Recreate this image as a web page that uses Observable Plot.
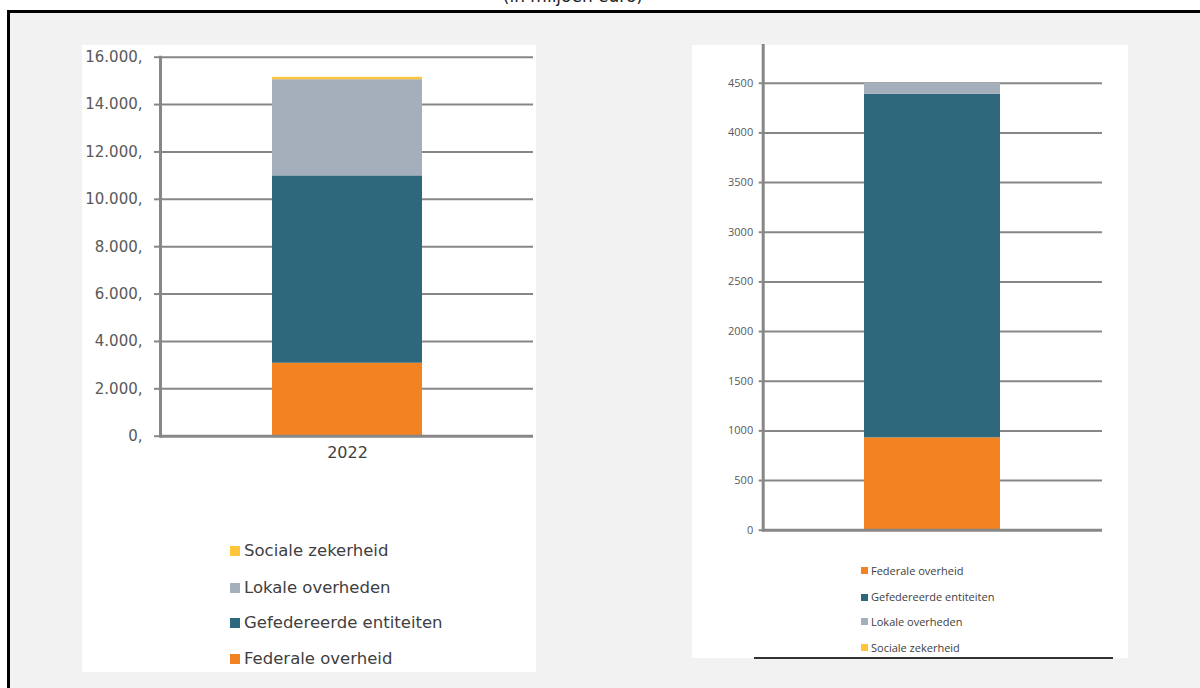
<!DOCTYPE html>
<html>
<head>
<meta charset="utf-8">
<script src="https://cdn.jsdelivr.net/npm/d3@7"></script>
<script src="https://cdn.jsdelivr.net/npm/@observablehq/plot@0.6"></script>
<style>
  html, body { margin: 0; padding: 0; background: #ffffff; width: 1200px; height: 688px; overflow: hidden; }
  #frame { position: absolute; left: 7px; top: 10px; width: 1193px; height: 678px; background: #f2f2f2;
           border-top: 3px solid #000; border-left: 3px solid #000; box-sizing: border-box; }
  .panel { position: absolute; background: #ffffff; }
  .chart { position: absolute; }
  .leg { position: absolute; white-space: nowrap; }
  .leg .sw { position: absolute; }
  .leg .tx { position: absolute; white-space: nowrap; }
</style>
</head>
<body>
<svg id="topText" width="1200" height="12" style="position:absolute;left:0;top:0;overflow:hidden"></svg>
<div id="frame"></div>
<div class="panel" style="left:82px;top:45px;width:454px;height:627px"></div>
<div class="panel" style="left:692px;top:45px;width:436px;height:613px"></div>
<div style="position:absolute;left:754px;top:657px;width:359px;height:2px;background:#333"></div>
<div id="left" class="chart" style="left:82px;top:45px"></div>
<div id="right" class="chart" style="left:692px;top:45px"></div>
<div id="legLeft"></div>
<div id="legRight"></div>
<script>
// ---- data ----
const series = ["Federale overheid", "Gefedereerde entiteiten", "Lokale overheden", "Sociale zekerheid"];
const seriesColors = ["#f38221", "#2d687c", "#a5afbc", "#fec53a"];
const years = ["2022"];
const leftValues = [3080, 7910, 4060, 100];
const rightValues = [930, 3460, 110, 0];
const leftTicks = [0, 2000, 4000, 6000, 8000, 10000, 12000, 14000, 16000];
const rightTicks = [0, 500, 1000, 1500, 2000, 2500, 3000, 3500, 4000, 4500];
const titleText = "(in miljoen euro)";

const leftData = series.map((s, i) => ({year: years[0], series: s, value: leftValues[i]}));
const rightData = series.map((s, i) => ({year: years[0], series: s, value: rightValues[i]}));

const nl = d3.formatLocale({decimal: ",", thousands: ".", grouping: [3], currency: ["", ""]});
const fmtLeft = v => nl.format(",")(v) + ",";

// title fragment, cut off at the top edge as in the reference
d3.select("#topText").append("text")
  .attr("x", 643).attr("y", 2).attr("text-anchor", "end")
  .attr("font-family", "DejaVu Sans").attr("font-size", 17).attr("fill", "#222")
  .text(titleText);

const gridGray = "#878787";

// ---- left chart ----
const left = Plot.plot({
  width: 454, height: 420,
  marginLeft: 78, marginRight: 3, marginTop: 11.7, marginBottom: 29.3,
  style: {background: "transparent", fontFamily: "DejaVu Sans", fontSize: "15px", color: "#595959", overflow: "visible"},
  x: {domain: years, padding: 0.4266, label: null},
  y: {domain: [0, 16000], label: null},
  color: {domain: series, range: seriesColors},
  marks: [
    Plot.ruleY(leftTicks.filter(d => d > 0), {stroke: gridGray, strokeWidth: 2}),
    Plot.barY(leftData, {x: "year", y: "value", fill: "series", order: series}),
    Plot.ruleY([0], {stroke: gridGray, strokeWidth: 3}),
    Plot.frame({anchor: "left", stroke: gridGray, strokeWidth: 3}),
    Plot.axisY({ticks: leftTicks, tickFormat: fmtLeft, tickSize: 6, tickPadding: 12,
                stroke: gridGray, strokeWidth: 2, fill: "#595959", label: null}),
    Plot.axisX({tickSize: 0, tickPadding: 10, fontSize: 16, fill: "#404040", label: null})
  ]
});
document.getElementById("left").appendChild(left);

// ---- right chart ----
const right = Plot.plot({
  width: 436, height: 487,
  marginLeft: 70.7, marginRight: 26, marginTop: 0, marginBottom: 2.3,
  style: {background: "transparent", fontFamily: "Open Sans", fontSize: "11px", color: "#595959", overflow: "visible"},
  x: {domain: years, padding: 0.4266, label: null, axis: null},
  y: {domain: [0, 4880], label: null},
  color: {domain: series, range: seriesColors},
  marks: [
    Plot.ruleY(rightTicks.filter(d => d > 0), {stroke: gridGray, strokeWidth: 2}),
    Plot.barY(rightData, {x: "year", y: "value", fill: "series", order: series}),
    Plot.ruleY([0], {stroke: gridGray, strokeWidth: 3}),
    Plot.frame({anchor: "left", stroke: gridGray, strokeWidth: 3}),
    Plot.axisY({ticks: rightTicks, tickFormat: d => String(d), tickSize: 4, tickPadding: 6,
                stroke: gridGray, strokeWidth: 2, fill: "#595959", label: null})
  ]
});
document.getElementById("right").appendChild(right);

// ---- legends ----
function legend(container, order, x, ys, sq, gap, font, size) {
  const root = document.getElementById(container);
  order.forEach((name, i) => {
    const idx = series.indexOf(name);
    const row = document.createElement("div");
    row.className = "leg";
    row.style.left = x + "px";
    row.style.top = ys[i] + "px";
    const sw = document.createElement("div");
    sw.className = "sw";
    sw.style.left = "0px"; sw.style.top = (-sq / 2) + "px";
    sw.style.width = sq + "px"; sw.style.height = sq + "px";
    sw.style.background = seriesColors[idx];
    const tx = document.createElement("div");
    tx.className = "tx";
    tx.style.left = (sq + gap) + "px";
    tx.style.top = (-size * 0.6) + "px";
    tx.style.lineHeight = (size * 1.2) + "px";
    tx.style.fontFamily = font; tx.style.fontSize = size + "px"; tx.style.color = "#404040";
    tx.textContent = name;
    row.appendChild(sw); row.appendChild(tx);
    root.appendChild(row);
  });
}
legend("legLeft", series.slice().reverse(), 230, [550.7, 587.7, 623.3, 659], 10, 4, "DejaVu Sans", 16.5);
legend("legRight", series, 861, [570.7, 597, 621.7, 647.3], 7, 3, "Open Sans", 11);
</script>
</body>
</html>
